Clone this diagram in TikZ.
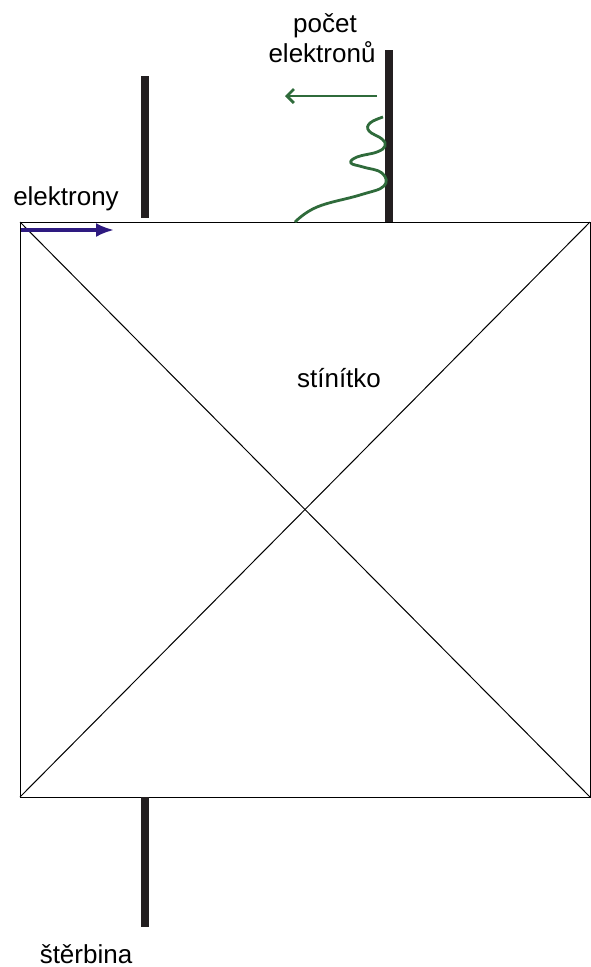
\documentclass[tikz,border=0pt]{standalone}
\usepackage{fontspec}
\setmainfont{Liberation Sans}
\usepackage{xcolor}
\usetikzlibrary{calc, positioning, arrows.meta}

\definecolor{modra}{HTML}{2E1A80}
\definecolor{zelena}{HTML}{2F6B3B}
\definecolor{cerna}{HTML}{231F20}

\tikzset{
    popis/.style={font=\fontsize{26}{30}\selectfont, inner sep=0pt, anchor=base},
    prepazka/.style={cerna, line width=8pt},
    tenka/.style={line width=1pt}
}

\begin{document}
\begin{tikzpicture}[x=1pt, y=-1pt, >=latex]
    \useasboundingbox (0,0) rectangle (591,967);

    % Rohy stínítka
    \coordinate (LH) at (20,222);
    \coordinate (PH) at (590,222);
    \coordinate (LD) at (20,797);
    \coordinate (PD) at (590,797);

    % Stínítko s úhlopříčkami
    \draw[tenka] (LH) -- (PH) -- (PD) -- (LD) -- cycle;
    \draw[tenka] (LH) -- (PD);
    \draw[tenka] (LD) -- (PH);

    % Štěrbina (horní a dolní část) a stínítko vpravo
    \coordinate (S1) at (145,76);
    \coordinate (S2) at (145,218);
    \coordinate (S3) at (145,797);
    \coordinate (S4) at (145,927);
    \coordinate (D1) at (389,50);
    \coordinate (D2) at (389,222);
    \draw[prepazka] (S1) -- (S2);
    \draw[prepazka] (S3) -- (S4);
    \draw[prepazka] (D1) -- (D2);

    % Popisky
    \node[popis] (pocet) at (325,32) {počet};
    \node[popis] (elektronu) at (322,62) {elektronů};
    \node[popis] (elektrony) at (66,205) {elektrony};
    \node[popis] (stinitko) at (339,387) {stínítko};
    \node[popis] (sterbina) at (86,963) {štěrbina};

    % Směr letu elektronů
    \coordinate (E1) at (21,230);
    \coordinate (E2) at (114,230);
    \draw[-{Latex[length=18pt, width=14pt]}, modra, line width=3.2pt] (E1) -- (E2);

    % Osa počtu elektronů a rozložení
    \coordinate (Z1) at (377,96);
    \coordinate (Z2) at (285,96);
    \draw[-{Straight Barb[length=7pt, width=14pt]}, zelena, line width=2.8pt] (Z1) -- (Z2);
    \draw[zelena, line width=2.8pt] plot[smooth, tension=0.7] coordinates {
        (295,222) (317,207) (360,195) (384,186) (382,173) (363,167) (351,163)
        (357,157) (377,152) (385,146) (382,139) (369,131) (370,123) (383,117)};
\end{tikzpicture}
\end{document}
